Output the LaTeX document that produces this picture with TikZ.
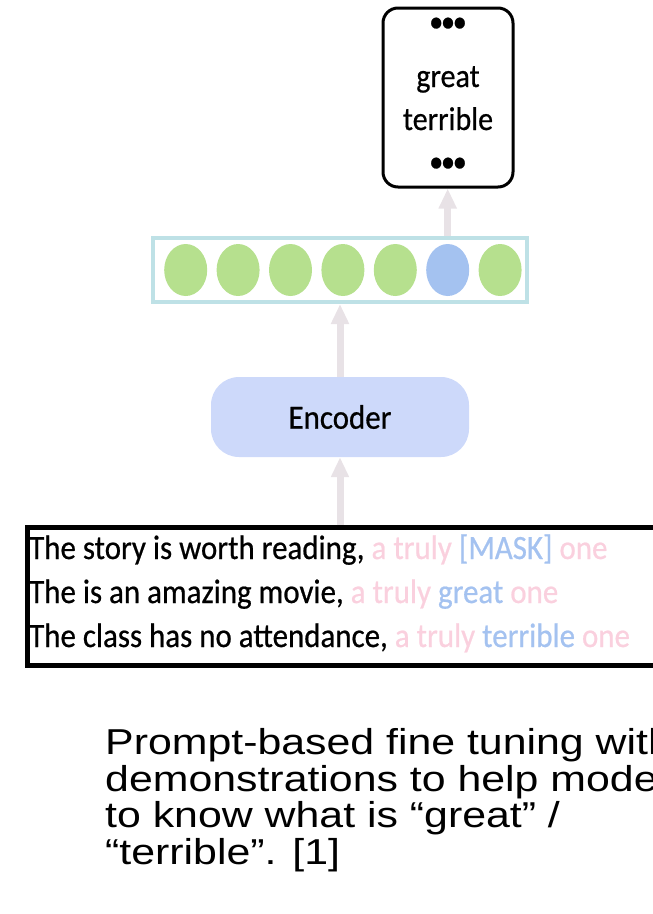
\documentclass[tikz,border=0pt]{standalone}
\usepackage{fontspec}
\setmainfont{Carlito}
\newfontfamily\slim[FakeStretch=0.91,FakeBold=0.6]{Carlito}
\newfontfamily\capfont[FakeStretch=1.19]{Liberation Sans}
\usetikzlibrary{arrows.meta}
\usetikzlibrary{shapes.geometric}
\definecolor{leaf}{RGB}{182,224,142}
\definecolor{sky}{RGB}{164,194,240}
\definecolor{frame}{RGB}{190,225,230}
\definecolor{encfill}{RGB}{205,217,250}
\definecolor{shaft}{RGB}{232,226,230}
\definecolor{pinktxt}{RGB}{250,208,222}
\definecolor{bluetxt}{RGB}{164,194,240}
\newcommand{\capsize}{\capfont\fontsize{36}{36.5}\selectfont\lineskiplimit=-100pt\relax}
\tikzset{up/.style={draw=shaft, line width=7pt, -{Triangle[width=17pt,length=20pt]}}}
\tikzset{tok/.style={ellipse, minimum width=43pt, minimum height=52pt, inner sep=0pt}}
\tikzset{sent/.style={anchor=base west, inner sep=0pt, font=\slim\fontsize{34}{40}\selectfont}}
\tikzset{word/.style={anchor=base, inner sep=0pt, font=\slim\fontsize{33}{40}\selectfont}}
\tikzset{dots/.style={anchor=center, inner sep=0pt, font=\slim\bfseries\fontsize{26}{26}\selectfont}}
\newcommand{\pk}[1]{\textcolor{pinktxt}{#1}}
\newcommand{\bl}[1]{\textcolor{bluetxt}{#1}}
\begin{document}
\begin{tikzpicture}[x=1pt,y=-1pt]
\useasboundingbox (0,0) rectangle (653,914);
\clip (0,0) rectangle (653,914);
\node[draw, line width=3pt, rounded corners=15pt, minimum width=130pt, minimum height=179pt] (vocab) at (448,97.5) {};
\node[dots] (dotsA) at (448,24) {•••};
\node[word] (great) at (448,87) {great};
\node[word] (terrible) at (448,130) {terrible};
\node[dots] (dotsB) at (448,164) {•••};
\node[draw=frame, line width=4pt, minimum width=374pt, minimum height=64pt, inner sep=0pt] (vec) at (340,270) {};
\foreach \i/\c in {1/leaf,2/leaf,3/leaf,4/leaf,5/leaf,6/sky,7/leaf}
  \node[tok, fill=\c] (t\i) at ({185.7+52.4*(\i-1)},270) {};
\node[fill=encfill, rounded corners=28pt, minimum width=258pt, minimum height=80pt, font=\slim\fontsize{34}{40}\selectfont] (enc) at (340,417) {Encoder};
\node[draw, line width=4.5pt, anchor=north west, minimum width=680pt, minimum height=138pt, inner sep=0pt] (demo) at (25,525) {};
\node[sent] (s1) at (29,559) {The story is worth reading, \pk{a truly} \bl{[MASK]} \pk{one}};
\node[sent] (s2) at (29,603) {The is an amazing movie, \pk{a truly} \bl{great} \pk{one}};
\node[sent] (s3) at (29,647) {The class has no attendance, \pk{a truly} \bl{terrible} \pk{one}};
\draw[up] (enc.south |- demo.north) -- (enc.south);
\draw[up] (enc.north) -- (enc.north |- vec.south);
\draw[up] (t6 |- vec.north) -- (t6 |- vocab.south);
\node[anchor=base west, align=left, inner sep=0pt, font=\capsize] (cap) at (105,864) {Prompt-based fine tuning with\\demonstrations to help model\\to know what is “great” /\\“terrible”. [1]};
\end{tikzpicture}
\end{document}
